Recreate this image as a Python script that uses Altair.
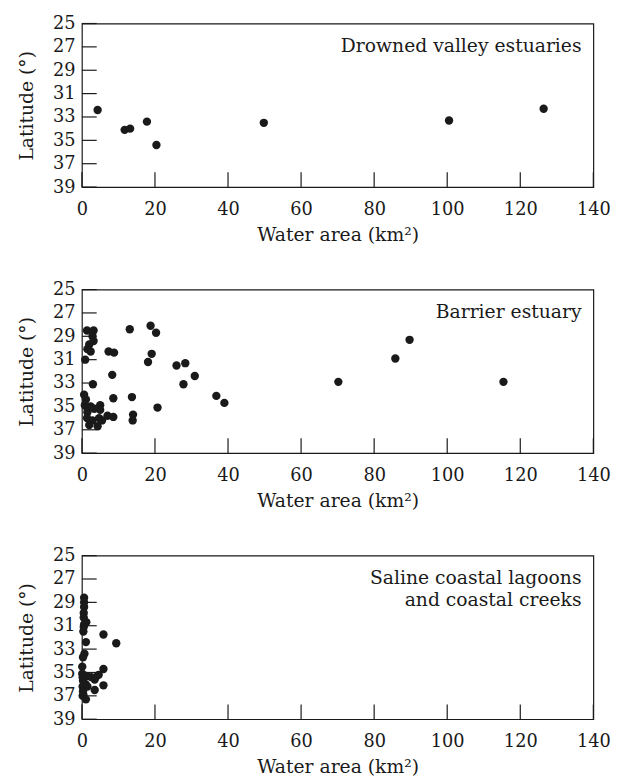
import altair as alt
import pandas as pd

FONT = "DejaVu Serif"

# Drowned valley estuaries
dv_area = [4.3, 11.7, 13.2, 17.8, 20.4, 49.8, 100.5, 126.4]
dv_lat = [32.4, 34.1, 34.0, 33.4, 35.4, 33.5, 33.3, 32.3]

# Barrier estuary
be_area = [1.4, 3.2, 2.9, 3.2, 2.0, 1.5, 2.4, 0.9,
           7.3, 8.8, 13.1, 18.8, 20.3, 19.1, 18.1, 25.9, 28.3, 30.9, 27.8,
           8.3, 3.0, 36.8, 39.0, 20.7, 13.7, 8.6, 14.0, 13.9, 8.6, 7.0,
           5.0, 5.0, 3.4, 0.6, 1.1, 0.8, 1.6, 2.4, 1.5, 1.4, 2.9, 4.7,
           2.0, 4.3, 5.5, 70.2, 85.8, 89.7, 115.4]
be_lat = [28.5, 28.5, 29.0, 29.4, 29.7, 30.1, 30.3, 31.0,
          30.3, 30.4, 28.4, 28.1, 28.7, 30.5, 31.2, 31.5, 31.3, 32.4, 33.1,
          32.3, 33.1, 34.1, 34.7, 35.1, 34.2, 34.3, 35.7, 36.2, 35.9, 35.8,
          34.9, 35.3, 35.2, 34.0, 34.4, 34.9, 35.2, 35.0, 35.5, 36.0, 36.2, 36.0,
          36.6, 36.7, 36.2, 32.9, 30.9, 29.3, 32.9]

# Saline coastal lagoons and coastal creeks
sl_area = [0.6, 0.6, 0.6, 0.5, 0.5, 1.2, 0.6, 0.5, 0.4,
           5.9, 9.4, 1.1, 0.7, 0.3, 0.1, 5.9, 0.1, 0.2, 1.2, 2.5, 3.8, 4.6,
           3.5, 0.3, 1.0, 0.2, 1.5, 5.9, 3.5, 0.3, 0.2, 1.1, 0.4]
sl_lat = [28.6, 29.0, 29.4, 29.9, 30.3, 30.7, 30.9, 31.1, 31.5,
          31.75, 32.5, 32.4, 33.4, 33.7, 34.5, 34.7, 35.1, 35.4, 35.3, 35.4, 35.4, 35.2,
          35.6, 35.7, 36.0, 36.2, 36.2, 36.1, 36.5, 36.6, 37.0, 37.3, 36.9]

panel_labels = [
    ["Drowned valley estuaries"],
    ["Barrier estuary"],
    ["Saline coastal lagoons", "and coastal creeks"],
]

x_ticks = [0, 20, 40, 60, 80, 100, 120, 140]
y_ticks = [25, 27, 29, 31, 33, 35, 37, 39]
x_title = "Water area (km²)"
y_title = "Latitude (°)"

W, H = 519, 166
TICK = 15
INK = "#1a1a1a"

x_scale = alt.Scale(domain=[0, 140], nice=False, zero=True)
y_scale = alt.Scale(domain=[25, 39], reverse=True, nice=False, zero=False)
x_axis = alt.Axis(values=x_ticks, title=x_title, ticks=False,
                  labelPadding=14, titlePadding=7)
y_axis = alt.Axis(values=y_ticks, title=y_title, ticks=False,
                  labelPadding=7, titlePadding=16)


def panel(area, lat, label):
    df = pd.DataFrame({"area": area, "lat": lat})
    pts = alt.Chart(df).mark_circle(size=72, color=INK, opacity=1).encode(
        x=alt.X("area:Q", scale=x_scale, axis=x_axis, title=x_title),
        y=alt.Y("lat:Q", scale=y_scale, axis=y_axis, title=y_title),
    )
    xt = alt.Chart(pd.DataFrame({"v": x_ticks})).mark_rule(
        color=INK, strokeWidth=1.2
    ).encode(x=alt.X("v:Q", scale=x_scale, axis=x_axis, title=x_title),
             y=alt.value(H), y2=alt.value(H - TICK))
    yt = alt.Chart(pd.DataFrame({"v": y_ticks})).mark_rule(
        color=INK, strokeWidth=1.2
    ).encode(y=alt.Y("v:Q", scale=y_scale, axis=y_axis, title=y_title),
             x=alt.value(0), x2=alt.value(TICK))
    tdf = pd.DataFrame({"t": [label]})
    txt = alt.Chart(tdf).mark_text(
        align="right", baseline="alphabetic", fontSize=19, lineHeight=22,
        font=FONT, color=INK
    ).encode(x=alt.value(W - 12), y=alt.value(29), text="t:N")
    return alt.layer(pts, xt, yt, txt).properties(width=W, height=H)


chart = alt.vconcat(
    panel(dv_area, dv_lat, panel_labels[0]),
    panel(be_area, be_lat, panel_labels[1]),
    panel(sl_area, sl_lat, panel_labels[2]),
    spacing=35,
).properties(
    padding={"left": 9, "top": 0, "right": 5, "bottom": 0}
).configure_view(
    stroke=INK, strokeWidth=1.2
).configure_axis(
    domain=False, grid=False,
    labelFont=FONT, labelFontSize=18, labelColor=INK,
    labelFlush=False, labelOverlap=False, labelBound=False,
    titleFont=FONT, titleFontSize=19, titleFontWeight="normal", titleColor=INK,
)

chart.save("out.html", embed_options={"renderer": "svg", "actions": False})
